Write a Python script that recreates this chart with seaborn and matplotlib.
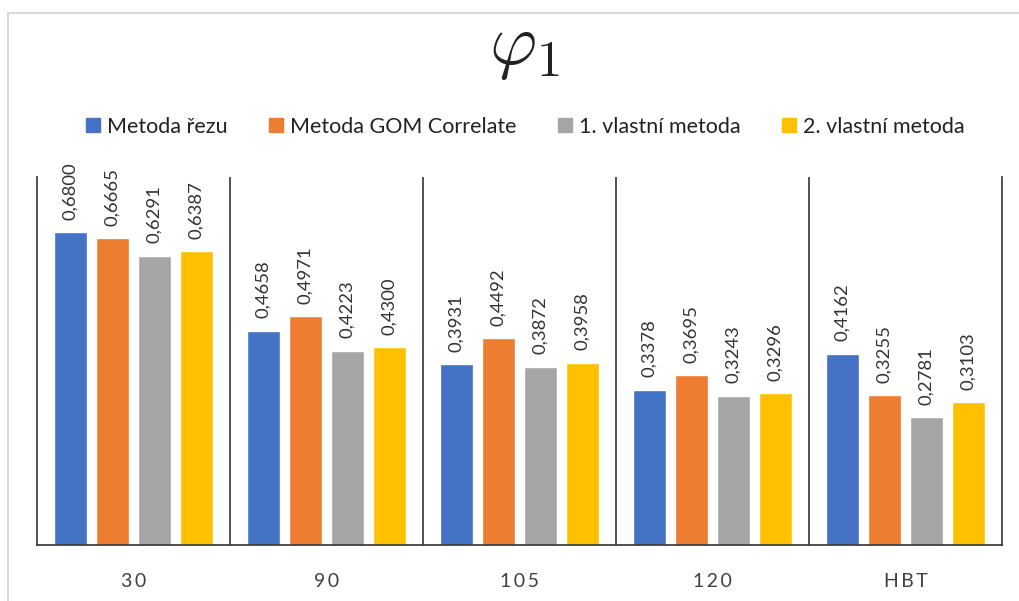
import matplotlib
matplotlib.use("Agg")
import matplotlib.pyplot as plt
from matplotlib.lines import Line2D
import seaborn as sns
import pandas as pd

# Data
categories = ["30", "90", "105", "120", "HBT"]
methods = ["Metoda řezu", "Metoda GOM Correlate", "1. vlastní metoda", "2. vlastní metoda"]
rez = [0.6800, 0.4658, 0.3931, 0.3378, 0.4162]
gom = [0.6665, 0.4971, 0.4492, 0.3695, 0.3255]
vlastni1 = [0.6291, 0.4223, 0.3872, 0.3243, 0.2781]
vlastni2 = [0.6387, 0.4300, 0.3958, 0.3296, 0.3103]
colors = ["#4472C4", "#ED7D31", "#A5A5A5", "#FFC000"]

series = [rez, gom, vlastni1, vlastni2]
rows = []
for m, vals in zip(methods, series):
    for c, v in zip(categories, vals):
        rows.append({"kat": c, "metoda": m, "hodnota": v})
df = pd.DataFrame(rows)

sns.set_theme(style="white")
plt.rcParams["font.family"] = ["Lato", "DejaVu Sans"]
plt.rcParams["mathtext.fontset"] = "cm"

fig = plt.figure(figsize=(10.19, 6.01), dpi=100)
ax = fig.add_axes([37 / 1019, 1 - 545 / 601, (1002 - 37) / 1019, (545 - 177) / 601])

sns.barplot(data=df, x="kat", y="hodnota", hue="metoda", hue_order=methods,
            order=categories, palette=colors, width=0.87, gap=0.21,
            saturation=1, ax=ax, legend=False, errorbar=None)

ax.set_ylim(0, 0.8)
ax.set_xlim(-0.5, len(categories) - 0.5)
ax.set_yticks([])
ax.set_xlabel("")
ax.set_ylabel("")

# Category labels with widened letter spacing
ax.set_xticks(range(len(categories)))
ax.set_xticklabels(["\u2009".join(list(c)) for c in categories], fontsize=14, color="#404040")
ax.tick_params(axis="x", length=0, pad=20)

for s in ["left", "right", "bottom"]:
    ax.spines[s].set_color("#333333")
    ax.spines[s].set_linewidth(1.2)
ax.spines["top"].set_visible(False)

# Vertical separators between category groups
for i in range(len(categories) - 1):
    ax.axvline(i + 0.5, color="#333333", lw=1.2)

# Value labels on bars
for cont, vals in zip(ax.containers, series):
    ax.bar_label(cont, labels=[f"{v:.4f}".replace(".", ",") for v in vals],
                 rotation=90, padding=9, fontsize=13.3, color="#333333")

# Title
fig.text(0.515, 1 - 50 / 601, r"$\varphi_1$", ha="center", va="center", fontsize=52, color="#222222")

# Legend
handles = [Line2D([0], [0], marker="s", color="none", markerfacecolor=c,
                  markeredgecolor=c, markersize=10.5) for c in colors]
fig.legend(handles, methods, loc="center", bbox_to_anchor=(525 / 1019, 1 - 127 / 601),
           ncol=4, frameon=False, fontsize=15.5, handlelength=0.7, handletextpad=0.3,
           columnspacing=1.9, labelcolor="#222222")

# Outer frame lines
fig.add_artist(Line2D([8 / 1019, 1], [1 - 13 / 601, 1 - 13 / 601], color="#D9D9D9", lw=1.5,
                      transform=fig.transFigure))
fig.add_artist(Line2D([8 / 1019, 8 / 1019], [0, 1 - 13 / 601], color="#D9D9D9", lw=1.5,
                      transform=fig.transFigure))

fig.savefig("out.png", dpi=100)
